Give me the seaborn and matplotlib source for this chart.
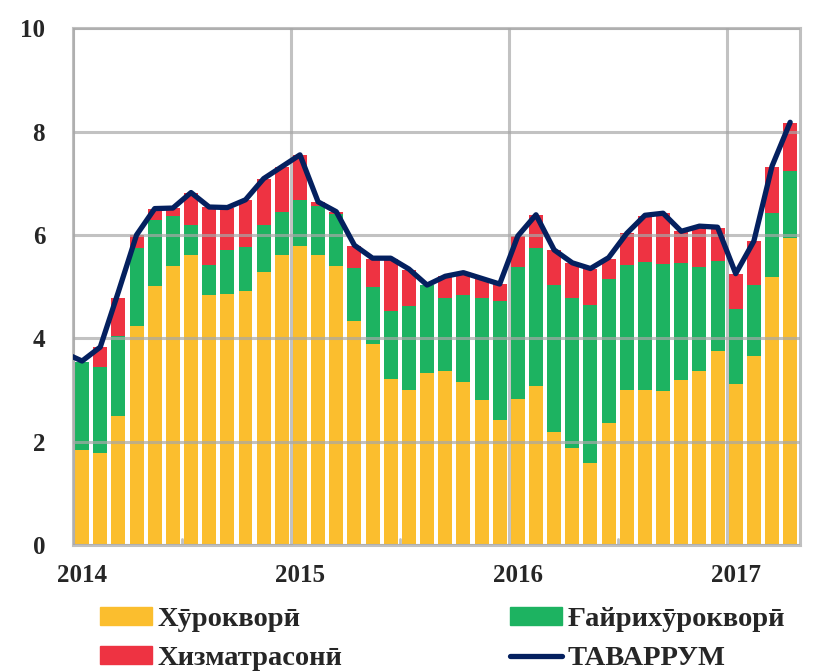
import numpy as np
import pandas as pd
import matplotlib
matplotlib.use("Agg")
import matplotlib.pyplot as plt
from matplotlib.patches import Patch
from matplotlib.lines import Line2D
import seaborn as sns

# monthly data, Jan 2014 .. Apr 2017
months = pd.period_range("2014-01", "2017-04", freq="M").astype(str).tolist()

food = [1.84, 1.78, 2.49, 4.24, 5.01, 5.39, 5.61, 4.83, 4.86, 4.92, 5.29, 5.61,
        5.78, 5.61, 5.39, 4.34, 3.89, 3.21, 2.99, 3.33, 3.37, 3.15, 2.80, 2.41,
        2.82, 3.08, 2.19, 1.88, 1.59, 2.36, 2.99, 3.00, 2.98, 3.20, 3.37, 3.76,
        3.11, 3.66, 5.19, 5.94]
nonfood = [1.71, 1.66, 1.55, 1.51, 1.28, 0.97, 0.59, 0.59, 0.84, 0.84, 0.91, 0.84,
           0.89, 0.95, 1.01, 1.02, 1.11, 1.31, 1.64, 1.70, 1.40, 1.69, 1.97, 2.31,
           2.55, 2.66, 2.85, 2.90, 3.06, 2.78, 2.42, 2.47, 2.45, 2.25, 2.01, 1.73,
           1.46, 1.38, 1.23, 1.29]
services = [0.00, 0.39, 0.73, 0.24, 0.22, 0.16, 0.62, 1.12, 0.82, 0.91, 0.89, 0.87,
            0.87, 0.07, 0.04, 0.43, 0.54, 1.02, 0.70, 0.00, 0.43, 0.42, 0.38, 0.34,
            0.61, 0.64, 0.67, 0.67, 0.70, 0.40, 0.62, 0.90, 0.99, 0.62, 0.79, 0.65,
            0.68, 0.84, 0.90, 0.94]
# headline inflation, starting Dec 2013
cpi = [3.72,
       3.56, 3.83, 4.90, 6.00, 6.51, 6.52, 6.82, 6.54, 6.53, 6.68, 7.09, 7.32,
       7.55, 6.64, 6.45, 5.80, 5.55, 5.55, 5.34, 5.03, 5.20, 5.27, 5.16, 5.05,
       5.98, 6.39, 5.71, 5.46, 5.35, 5.56, 6.03, 6.38, 6.42, 6.07, 6.17, 6.15,
       5.25, 5.88, 7.33, 8.18]
years = ["2014", "2015", "2016", "2017"]

labels = ["Хӯрокворӣ", "Ғайрихӯрокворӣ", "Хизматрасонӣ", "ТАВАРРУМ"]
c_food, c_nonfood, c_serv, c_line = "#FBBE2E", "#1DB361", "#EE3342", "#04205F"

df = pd.DataFrame({"month": months, "food": food, "nonfood": nonfood, "services": services})
df["pos"] = np.arange(len(df))
df["lvl2"] = df["food"] + df["nonfood"]
df["lvl3"] = df["lvl2"] + df["services"]
line_df = pd.DataFrame({"pos": np.arange(-1, len(months)), "cpi": cpi})

sns.set_style("white")
plt.rcParams["font.family"] = ["Liberation Serif", "DejaVu Serif"]

fig = plt.figure(figsize=(8.14, 6.72), dpi=100)
ax = fig.add_axes([0.0897, 0.189, 0.8933, 0.769])

# stacked bars drawn back to front
for col, c in [("lvl3", c_serv), ("lvl2", c_nonfood), ("food", c_food)]:
    sns.barplot(data=df, x="pos", y=col, color=c, width=0.77, saturation=1,
                native_scale=True, ax=ax, zorder=2, linewidth=0)

sns.lineplot(data=line_df, x="pos", y="cpi", color=c_line, linewidth=3.8,
             ax=ax, zorder=4, sort=False)

ax.set_xlim(-0.5, 39.55)
ax.set_ylim(0, 10)
ax.set_xlabel("")
ax.set_ylabel("")

ax.set_yticks([0, 2, 4, 6, 8, 10])
ax.set_yticklabels(["0", "2", "4", "6", "8", "10"], fontsize=18, fontweight="bold")
ax.set_xticks([0, 12, 24, 36])
ax.set_xticklabels(years, fontsize=18, fontweight="bold")
ax.set_xticks([-0.5, 11.5, 23.5, 35.5], minor=True)
ax.tick_params(axis="x", which="major", length=0, pad=14)
ax.tick_params(axis="x", which="minor", length=6, width=2, color="#C0C0C0", direction="out")
ax.tick_params(axis="y", length=0, pad=20)

ax.grid(False)
ax.yaxis.grid(True, color="#A8A8A8", linewidth=2.2, alpha=0.7, zorder=3)
ax.xaxis.grid(True, which="minor", color="#A8A8A8", linewidth=2.2, alpha=0.7)
ax.set_axisbelow(False)
for p in [5.5, 17.5, 29.5]:
    ax.axvline(p, ymin=0, ymax=0.012, color="#C0C0C0", linewidth=2)

for s in ax.spines.values():
    s.set_color("#C0C0C0")
    s.set_linewidth(2.2)

leg_kw = dict(loc="upper left", frameon=False, borderpad=0, borderaxespad=0,
              prop={"size": 20.5, "weight": "bold"}, handlelength=1.82,
              handleheight=0.6, handletextpad=0.2, labelspacing=0.5)
leg1 = fig.legend([Patch(color=c_food), Patch(color=c_serv)], [labels[0], labels[2]],
                  bbox_to_anchor=(100 / 814, 1 - 607 / 672), **leg_kw)
leg2 = fig.legend([Patch(color=c_nonfood), Line2D([0], [0], color=c_line, linewidth=3.8)],
                  [labels[1], labels[3]], bbox_to_anchor=(510 / 814, 1 - 607 / 672), **leg_kw)

fig.savefig("out.png", dpi=100)
